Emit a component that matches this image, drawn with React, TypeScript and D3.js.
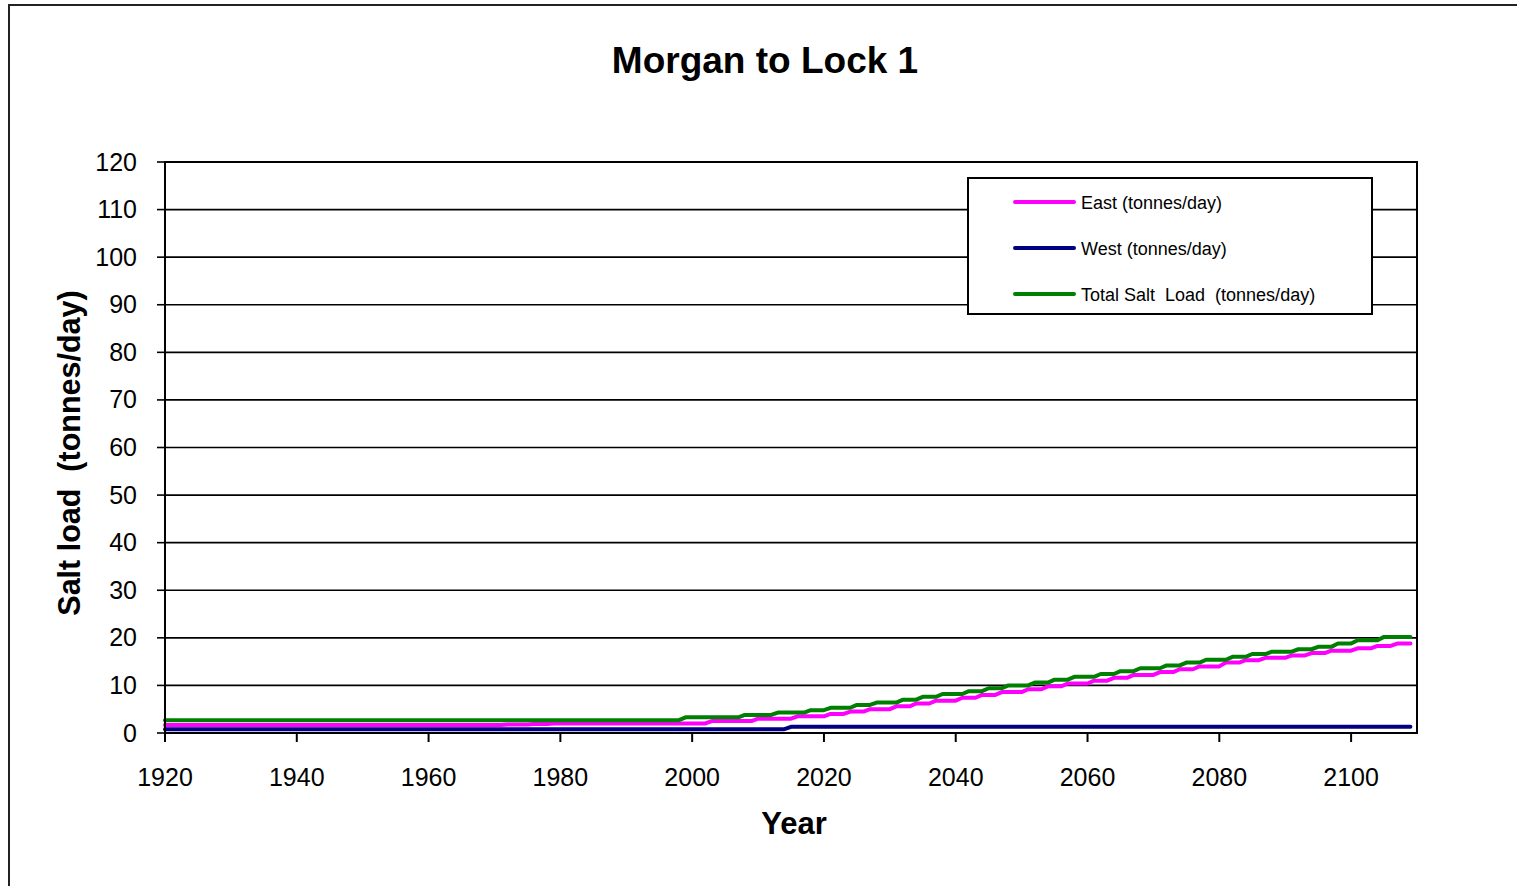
import React from "react";
import * as d3 from "d3";

// Step levels: [first year of level, salt load in tonnes/day]
const eastLevels: [number, number][] = [
  [1920, 1.7], [1972, 1.8], [1976, 1.9], [1979, 2.0], [2003, 2.5], [2010, 3.0],
  [2016, 3.5], [2021, 4.0], [2024, 4.5], [2027, 5.0], [2031, 5.6], [2034, 6.2],
  [2037, 6.8], [2041, 7.4], [2044, 8.0], [2047, 8.6], [2051, 9.2], [2054, 9.8],
  [2057, 10.4], [2061, 11.0], [2064, 11.6], [2067, 12.2], [2071, 12.8], [2074, 13.4],
  [2077, 14.0], [2081, 14.8], [2084, 15.3], [2087, 15.8], [2091, 16.3], [2094, 16.8],
  [2097, 17.3], [2101, 17.8], [2104, 18.3], [2107, 18.8],
];

const westLevels: [number, number][] = [
  [1920, 0.8], [2015, 1.3],
];

const totalLevels: [number, number][] = [
  [1920, 2.7], [1999, 3.3], [2008, 3.8], [2013, 4.3], [2018, 4.8], [2021, 5.3],
  [2025, 5.9], [2028, 6.4], [2032, 7.0], [2035, 7.6], [2038, 8.2], [2042, 8.8],
  [2045, 9.4], [2048, 10.0], [2052, 10.6], [2055, 11.2], [2058, 11.8], [2062, 12.4],
  [2065, 13.0], [2068, 13.6], [2072, 14.2], [2075, 14.8], [2078, 15.4], [2082, 16.0],
  [2085, 16.6], [2088, 17.1], [2092, 17.6], [2095, 18.1], [2098, 18.8], [2101, 19.5],
  [2105, 20.2],
];

const lastYear = 2109;
const xTicks = [1920, 1940, 1960, 1980, 2000, 2020, 2040, 2060, 2080, 2100];
const yTicks = [0, 10, 20, 30, 40, 50, 60, 70, 80, 90, 100, 110, 120];

const seriesNames = ["East (tonnes/day)", "West (tonnes/day)", "Total Salt  Load  (tonnes/day)"];
const seriesColors = ["#FF00FF", "#000080", "#008000"];
const seriesLevels = [eastLevels, westLevels, totalLevels];

// Each level is held until the year before the next level starts.
function levelPoints(levels: [number, number][]): [number, number][] {
  const pts: [number, number][] = [];
  levels.forEach(([yr, v], i) => {
    pts.push([yr, v]);
    const end = i + 1 < levels.length ? levels[i + 1][0] - 1 : lastYear;
    if (end > yr) pts.push([end, v]);
  });
  return pts;
}

export default function App() {
  const W = 1517;
  const H = 886;
  const left = 165, right = 1417, top = 162, bottom = 733;

  const x = d3.scaleLinear().domain([1920, 2110]).range([left, right]);
  const y = d3.scaleLinear().domain([0, 120]).range([bottom, top]);
  const line = d3
    .line<[number, number]>()
    .x((d) => x(d[0]))
    .y((d) => y(d[1]));

  const font = "Arial, 'Liberation Sans', sans-serif";

  const legX = 968, legY = 178, legW = 404, legH = 136;

  return (
    <svg
      width={W}
      height={H}
      style={{ position: "absolute", left: 0, top: 0, background: "#fff" }}
      fontFamily={font}
    >
      {/* outer chart frame */}
      <rect x={9} y={5} width={W + 20} height={H + 20} fill="#fff" stroke="#222" strokeWidth={2} />

      <text x={765} y={73} textAnchor="middle" fontSize={37} fontWeight="bold">
        Morgan to Lock 1
      </text>

      {/* gridlines */}
      {yTicks.map((t) => (
        <line key={"g" + t} x1={left} x2={right} y1={y(t)} y2={y(t)} stroke="#000" strokeWidth={1.6} />
      ))}

      {/* y ticks and labels */}
      {yTicks.map((t) => (
        <g key={"y" + t}>
          <line x1={left - 8} x2={left} y1={y(t)} y2={y(t)} stroke="#000" strokeWidth={1.6} />
          <text x={137} y={y(t) + 8.5} textAnchor="end" fontSize={25}>
            {t}
          </text>
        </g>
      ))}

      {/* x ticks and labels */}
      {xTicks.map((t) => (
        <g key={"x" + t}>
          <line x1={x(t)} x2={x(t)} y1={bottom} y2={bottom + 9} stroke="#000" strokeWidth={2} />
          <text x={x(t)} y={786} textAnchor="middle" fontSize={25}>
            {t}
          </text>
        </g>
      ))}

      {/* series */}
      {seriesLevels.map((lv, i) => (
        <path
          key={"s" + i}
          d={line(levelPoints(lv)) || ""}
          fill="none"
          stroke={seriesColors[i]}
          strokeWidth={4}
          strokeLinejoin="round"
          strokeLinecap="round"
        />
      ))}

      {/* plot border */}
      <rect x={left} y={top} width={right - left} height={bottom - top} fill="none" stroke="#000" strokeWidth={2} />

      {/* axis titles */}
      <text x={794} y={834} textAnchor="middle" fontSize={31} fontWeight="bold">
        Year
      </text>
      <text
        transform={`translate(80, ${453}) rotate(-90)`}
        textAnchor="middle"
        fontSize={30.5}
        fontWeight="bold"
        style={{ whiteSpace: "pre" }}
      >
        {"Salt load  (tonnes/day)"}
      </text>

      {/* legend */}
      <rect x={legX} y={legY} width={legW} height={legH} fill="#fff" stroke="#000" strokeWidth={2} />
      {seriesNames.map((n, i) => (
        <g key={"l" + i}>
          <line
            x1={1015}
            x2={1074}
            y1={202 + i * 46}
            y2={202 + i * 46}
            stroke={seriesColors[i]}
            strokeWidth={4}
            strokeLinecap="round"
          />
          <text x={1081} y={209 + i * 46} fontSize={18} style={{ whiteSpace: "pre" }}>
            {n}
          </text>
        </g>
      ))}
    </svg>
  );
}
